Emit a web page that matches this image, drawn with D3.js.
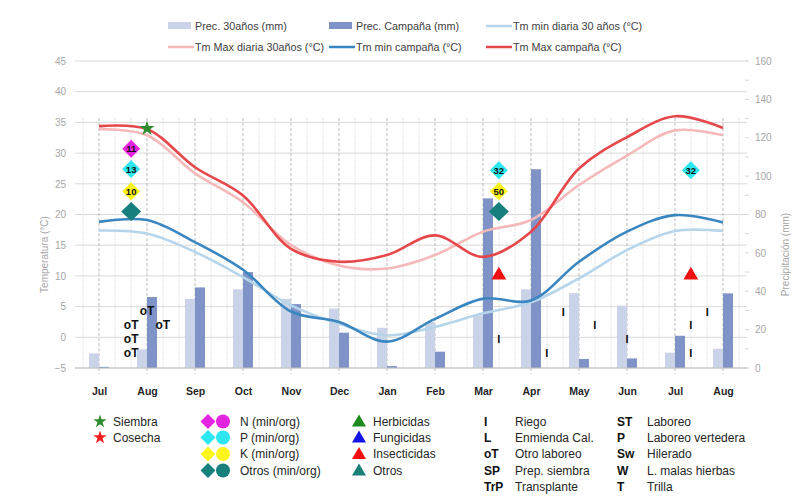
<!DOCTYPE html>
<html><head><meta charset="utf-8">
<script src="https://cdn.jsdelivr.net/npm/d3@7"></script>
<style>
body{margin:0;background:#fff;}
svg{font-family:"Liberation Sans",Arial,sans-serif;}
</style></head>
<body><svg id="c" width="801" height="502"></svg>
<script>
// ---------- DATA ----------
const months = ["Jul","Aug","Sep","Oct","Nov","Dec","Jan","Feb","Mar","Apr","May","Jun","Jul","Aug"];
const prec30   = [7.6, 9.7, 36, 41, 36, 31, 21, 24, 27.5, 41, 39, 32.5, 8, 10];
const precCamp = [0.6, 37, 42, 50, 33.3, 18.4, 1, 8.5, 88.4, 103.6, 4.7, 5, 16.8, 38.9];
const tmax30   = [33.9, 32.9, 26.7, 22.0, 15.0, 11.7, 11.2, 13.4, 17.2, 19.1, 24.8, 29.6, 33.7, 32.9];
const tmaxCamp = [34.4, 33.9, 27.7, 23.1, 14.4, 12.3, 13.4, 16.6, 13.1, 17.2, 27.5, 32.6, 36.0, 34.1];
const tmin30   = [17.4, 16.9, 13.9, 9.8, 5.2, 2.2, 0.3, 1.7, 3.9, 5.7, 9.6, 14.2, 17.3, 17.3];
const tminCamp = [18.8, 19.1, 15.5, 11.0, 4.2, 2.5, -0.7, 3.0, 6.3, 6.0, 12.3, 17.2, 19.9, 18.7];
const tempTicks = [-5, 0, 5, 10, 15, 20, 25, 30, 35, 40, 45];
const precTicks = [0, 20, 40, 60, 80, 100, 120, 140, 160];
// management markers: position in months (0 = first Jul), value on temperature axis
const fertilizers = [
  {pos:0.67, t:30.7, nut:"N", label:"11"},
  {pos:0.67, t:27.4, nut:"P", label:"13"},
  {pos:0.67, t:23.8, nut:"K", label:"10"},
  {pos:0.67, t:20.5, nut:"O", label:""},
  {pos:8.33, t:27.2, nut:"P", label:"32"},
  {pos:8.33, t:23.8, nut:"K", label:"50"},
  {pos:8.33, t:20.5, nut:"O", label:""},
  {pos:12.33, t:27.2, nut:"P", label:"32"}
];
const sowing = [{pos:1.0, t:34.0}];
const insecticides = [{pos:8.33, t:10.1}, {pos:12.33, t:10.1}];
const otherTillage = [{pos:0.67, t:2.1}, {pos:0.67, t:-0.2}, {pos:0.67, t:-2.4}, {pos:1.0, t:4.3}, {pos:1.33, t:2.1}];
const irrigation = [{pos:8.33, t:-0.2}, {pos:9.33, t:-2.4}, {pos:9.67, t:4.2}, {pos:10.33, t:2.1},
                    {pos:11.0, t:-0.2}, {pos:12.33, t:2.1}, {pos:12.33, t:-2.4}, {pos:12.67, t:4.2}];
const topLegend = [
  {name:"Prec. 30años (mm)", type:"bar", key:"p30"},
  {name:"Prec. Campaña (mm)", type:"bar", key:"pc"},
  {name:"Tm min diaria 30 años (°C)", type:"line", key:"tmin30"},
  {name:"Tm Max diaria 30años (°C)", type:"line", key:"tmax30"},
  {name:"Tm min campaña (°C)", type:"line", key:"tminc"},
  {name:"Tm Max campaña (°C)", type:"line", key:"tmaxc"}
];
const legStars = [{name:"Siembra", key:"sow"}, {name:"Cosecha", key:"har"}];
const legFert = [{name:"N (min/org)", key:"N"}, {name:"P (min/org)", key:"P"}, {name:"K (min/org)", key:"K"}, {name:"Otros (min/org)", key:"O"}];
const legTri = [{name:"Herbicidas", key:"h"}, {name:"Fungicidas", key:"f"}, {name:"Insecticidas", key:"i"}, {name:"Otros", key:"o"}];
const legAbbr1 = [["I","Riego"],["L","Enmienda Cal."],["oT","Otro laboreo"],["SP","Prep. siembra"],["TrP","Transplante"]];
const legAbbr2 = [["ST","Laboreo"],["P","Laboreo vertedera"],["Sw","Hilerado"],["W","L. malas hierbas"],["T","Trilla"]];

// ---------- STYLES ----------
const C = {p30:"#cbd3e8", pc:"#7f93c6", tmin30:"#b7d5ea", tmax30:"#f5b9b9", tminc:"#3a86c0", tmaxc:"#e5474b",
  N:"#e524e0", P:"#2de6ef", K:"#fbf51c", O:"#17807d", sow:"#2e8b2e", har:"#ee1c1c",
  h:"#1c8a1c", f:"#1414e6", i:"#ee1010", o:"#1b7f7a"};

const svg = d3.select("#c");
const L = 75, R = 747, T = 61, B = 368;
const x = d3.scaleLinear().domain([-0.5, 13.5]).range([L, R]);
const yT = d3.scaleLinear().domain([-5, 45]).range([B, T]);
const yP = d3.scaleLinear().domain([0, 160]).range([B, T]);

// horizontal gridlines
svg.append("g").selectAll("line").data(tempTicks).join("line")
  .attr("x1", L).attr("x2", R).attr("y1", d => yT(d)).attr("y2", d => yT(d))
  .attr("stroke", "#d9d9d9").attr("stroke-width", 1);

// vertical gridlines (thirds of month), month lines dashed
const vpos = d3.range(-1, 41).map(k => k / 3);
const vTop = yT(35.7);
svg.append("g").selectAll("line").data(vpos).join("line")
  .attr("x1", d => x(d)).attr("x2", d => x(d))
  .attr("y1", vTop).attr("y2", (d, i) => (i - 1) % 3 === 0 ? B + 6 : B)
  .attr("stroke", (d, i) => (i - 1) % 3 === 0 ? "#a8a8a8" : "#d4d4d4")
  .attr("stroke-width", 0.8)
  .attr("stroke-dasharray", (d, i) => (i - 1) % 3 === 0 ? "3,2" : "1.5,1.5");

// right tick marks
svg.append("g").selectAll("line").data(d3.range(0, 161, 10)).join("line")
  .attr("x1", R - 2).attr("x2", R + 2).attr("y1", d => yP(d)).attr("y2", d => yP(d))
  .attr("stroke", "#d9d9d9");

// bars
const idx = d3.range(months.length);
svg.append("g").selectAll("rect").data(idx).join("rect")
  .attr("x", i => x(i) - 10).attr("width", 10)
  .attr("y", i => yP(prec30[i])).attr("height", i => yP(0) - yP(prec30[i]))
  .attr("fill", C.p30);
svg.append("g").selectAll("rect").data(idx).join("rect")
  .attr("x", i => x(i)).attr("width", 10)
  .attr("y", i => yP(precCamp[i])).attr("height", i => yP(0) - yP(precCamp[i]))
  .attr("fill", C.pc);

// x axis line
svg.append("line").attr("x1", L).attr("x2", R).attr("y1", B).attr("y2", B).attr("stroke", "#bfbfbf");

// axes
const ax = svg.append("g").attr("transform", `translate(${L},0)`)
  .call(d3.axisLeft(yT).tickValues(tempTicks).tickSize(0).tickPadding(9));
ax.select(".domain").remove();
ax.selectAll("text").attr("fill", "#a6a6a6").style("font-size", "10px");
const ar = svg.append("g").attr("transform", `translate(${R},0)`)
  .call(d3.axisRight(yP).tickValues(precTicks).tickSize(0).tickPadding(8));
ar.select(".domain").remove();
ar.selectAll("text").attr("fill", "#a6a6a6").style("font-size", "10px");
const ab = svg.append("g").attr("transform", `translate(0,${B})`)
  .call(d3.axisBottom(x).tickValues(idx).tickFormat(i => months[i]).tickSize(0).tickPadding(20));
ab.select(".domain").remove();
ab.selectAll("text").attr("fill", "#262626").style("font-size", "10.5px").style("font-weight", "bold");

svg.append("text").attr("transform", `translate(48,${(T + B) / 2 + 40}) rotate(-90)`)
  .attr("text-anchor", "middle").attr("fill", "#a6a6a6").style("font-size", "10px").text("Temperatura (°C)");
svg.append("text").attr("transform", `translate(789,${(T + B) / 2 + 40}) rotate(-90)`)
  .attr("text-anchor", "middle").attr("fill", "#a6a6a6").style("font-size", "10px").text("Precipitación (mm)");

// lines
const line = d3.line().x((d, i) => x(i)).y(d => yT(d)).curve(d3.curveCatmullRom.alpha(0.5));
[[tmin30, C.tmin30], [tmax30, C.tmax30], [tminCamp, C.tminc], [tmaxCamp, C.tmaxc]].forEach(([s, c]) => {
  svg.append("path").datum(s).attr("d", line).attr("fill", "none").attr("stroke", c).attr("stroke-width", 2.6);
});

// markers
const diamond = (cx, cy, w, h) => `M${cx},${cy - h / 2}L${cx + w / 2},${cy}L${cx},${cy + h / 2}L${cx - w / 2},${cy}Z`;
const fm = svg.append("g");
fertilizers.forEach(d => {
  const big = d.nut === "O";
  fm.append("path").attr("d", diamond(x(d.pos), yT(d.t), big ? 20 : 18, big ? 19 : 18)).attr("fill", C[d.nut]);
  if (d.label) fm.append("text").attr("x", x(d.pos)).attr("y", yT(d.t) + 3.5).attr("text-anchor", "middle")
    .style("font-size", "9.5px").style("font-weight", "bold").attr("fill", "#111").text(d.label);
});
svg.append("g").selectAll("path").data(sowing).join("path")
  .attr("transform", d => `translate(${x(d.pos)},${yT(d.t)})`)
  .attr("d", d3.symbol(d3.symbolStar, 70)).attr("fill", C.sow);
svg.append("g").selectAll("path").data(insecticides).join("path")
  .attr("transform", d => `translate(${x(d.pos)},${yT(d.t)})`)
  .attr("d", d3.symbol(d3.symbolTriangle, 95)).attr("fill", C.i);
svg.append("g").selectAll("text").data(otherTillage).join("text")
  .attr("x", d => x(d.pos)).attr("y", d => yT(d.t) + 4.5).attr("text-anchor", "middle")
  .style("font-size", "12px").style("font-weight", "bold").attr("fill", "#111").text("oT");
svg.append("g").selectAll("text").data(irrigation).join("text")
  .attr("x", d => x(d.pos)).attr("y", d => yT(d.t) + 4.5).attr("text-anchor", "middle")
  .style("font-size", "11px").style("font-weight", "bold").attr("fill", "#111").text("I");

// top legend
const tl = svg.append("g").style("font-size", "10.8px");
topLegend.forEach((d, i) => {
  const col = i % 3, row = Math.floor(i / 3);
  const ox = [168, 329, 486][col], oy = [26, 47][row];
  if (d.type === "bar") tl.append("rect").attr("x", ox).attr("y", oy - 4).attr("width", 23).attr("height", 7).attr("fill", C[d.key]);
  else tl.append("line").attr("x1", ox).attr("x2", ox + 26).attr("y1", oy).attr("y2", oy).attr("stroke", C[d.key]).attr("stroke-width", 2.5);
  tl.append("text").attr("x", ox + 27).attr("y", oy + 3.5).attr("fill", "#404040").text(d.name);
});

// bottom legend
const bl = svg.append("g").style("font-size", "12px").attr("fill", "#262626");
const rows = [421.5, 437.5, 454, 470.5, 486.5];
legStars.forEach((d, i) => {
  bl.append("path").attr("transform", `translate(100,${rows[i]})`).attr("d", d3.symbol(d3.symbolStar, 55)).attr("fill", C[d.key]);
  bl.append("text").attr("x", 113).attr("y", rows[i] + 4).text(d.name);
});
legFert.forEach((d, i) => {
  bl.append("path").attr("d", diamond(208, rows[i], 15, 15)).attr("fill", C[d.key]);
  bl.append("circle").attr("cx", 223).attr("cy", rows[i]).attr("r", 7).attr("fill", C[d.key]);
  bl.append("text").attr("x", 240).attr("y", rows[i] + 4).text(d.name);
});
legTri.forEach((d, i) => {
  bl.append("path").attr("transform", `translate(359,${rows[i] + 1})`).attr("d", d3.symbol(d3.symbolTriangle, 85)).attr("fill", C[d.key]);
  bl.append("text").attr("x", 373).attr("y", rows[i] + 4).text(d.name);
});
legAbbr1.forEach((d, i) => {
  bl.append("text").attr("x", 484).attr("y", rows[i] + 4).style("font-weight", "bold").style("font-size", "12px").attr("fill", "#111").text(d[0]);
  bl.append("text").attr("x", 515).attr("y", rows[i] + 4).text(d[1]);
});
legAbbr2.forEach((d, i) => {
  bl.append("text").attr("x", 617).attr("y", rows[i] + 4).style("font-weight", "bold").style("font-size", "12px").attr("fill", "#111").text(d[0]);
  bl.append("text").attr("x", 647).attr("y", rows[i] + 4).text(d[1]);
});
</script></body></html>
